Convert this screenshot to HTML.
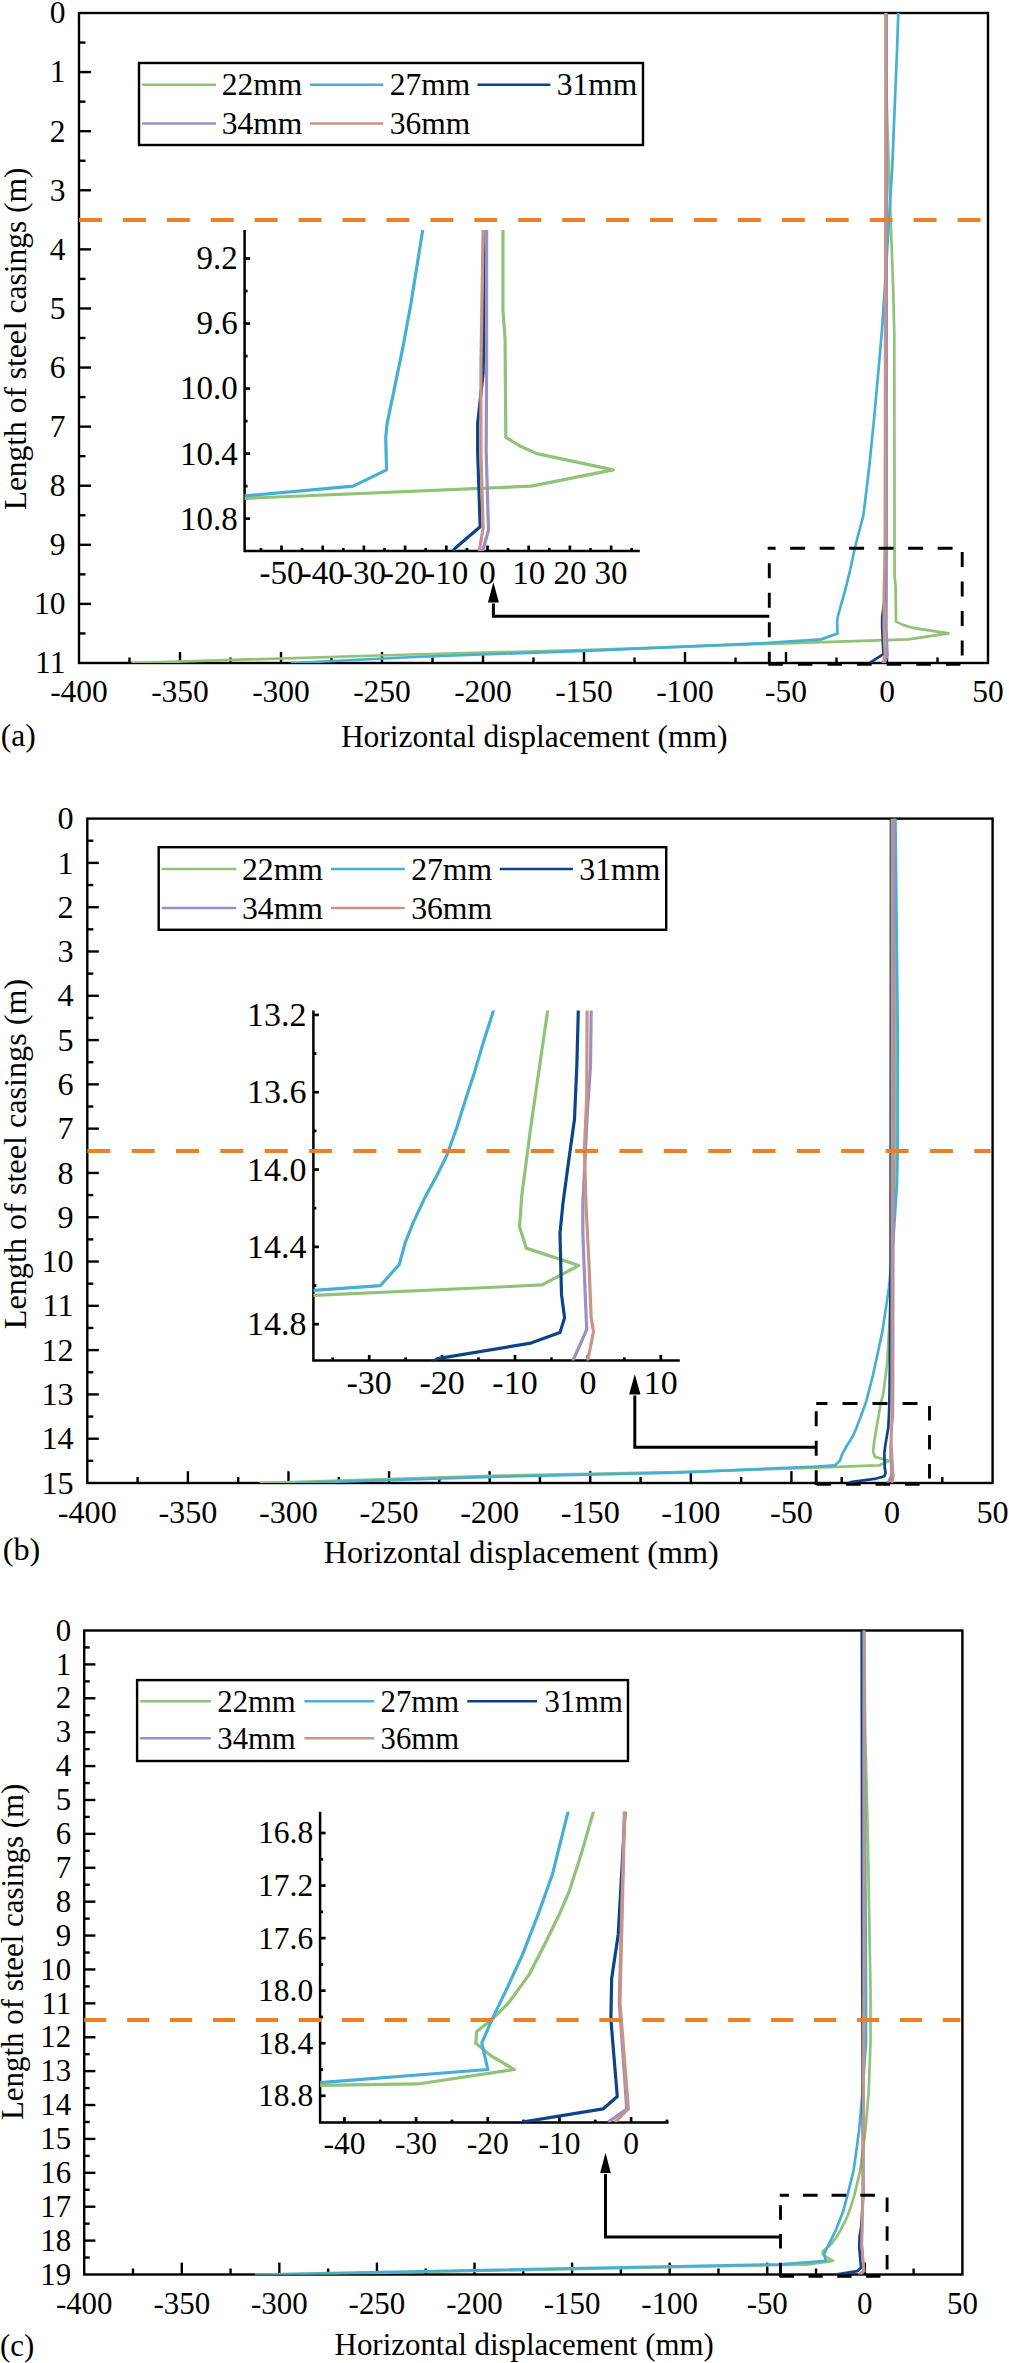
<!DOCTYPE html><html><head><meta charset="utf-8"><style>html,body{margin:0;padding:0;background:#fff;width:1009px;height:2363px;overflow:hidden}svg{display:block}text{font-family:"Liberation Serif", serif;fill:#000}</style></head><body>
<svg width="1009" height="2363" viewBox="0 0 1009 2363">
<rect width="1009" height="2363" fill="#fff"/>
<rect x="79" y="13" width="909" height="650" fill="none" stroke="#000" stroke-width="2.4"/>
<text x="65.4" y="23.4" font-size="31.5" text-anchor="end">0</text>
<line x1="79" y1="42.55" x2="85.5" y2="42.55" stroke="#000" stroke-width="2.4"/>
<line x1="79" y1="72.09" x2="91" y2="72.09" stroke="#000" stroke-width="2.4"/>
<text x="65.4" y="82.49" font-size="31.5" text-anchor="end">1</text>
<line x1="79" y1="101.64" x2="85.5" y2="101.64" stroke="#000" stroke-width="2.4"/>
<line x1="79" y1="131.18" x2="91" y2="131.18" stroke="#000" stroke-width="2.4"/>
<text x="65.4" y="141.58" font-size="31.5" text-anchor="end">2</text>
<line x1="79" y1="160.73" x2="85.5" y2="160.73" stroke="#000" stroke-width="2.4"/>
<line x1="79" y1="190.27" x2="91" y2="190.27" stroke="#000" stroke-width="2.4"/>
<text x="65.4" y="200.67" font-size="31.5" text-anchor="end">3</text>
<line x1="79" y1="219.82" x2="85.5" y2="219.82" stroke="#000" stroke-width="2.4"/>
<line x1="79" y1="249.36" x2="91" y2="249.36" stroke="#000" stroke-width="2.4"/>
<text x="65.4" y="259.76" font-size="31.5" text-anchor="end">4</text>
<line x1="79" y1="278.91" x2="85.5" y2="278.91" stroke="#000" stroke-width="2.4"/>
<line x1="79" y1="308.45" x2="91" y2="308.45" stroke="#000" stroke-width="2.4"/>
<text x="65.4" y="318.85" font-size="31.5" text-anchor="end">5</text>
<line x1="79" y1="338" x2="85.5" y2="338" stroke="#000" stroke-width="2.4"/>
<line x1="79" y1="367.55" x2="91" y2="367.55" stroke="#000" stroke-width="2.4"/>
<text x="65.4" y="377.94" font-size="31.5" text-anchor="end">6</text>
<line x1="79" y1="397.09" x2="85.5" y2="397.09" stroke="#000" stroke-width="2.4"/>
<line x1="79" y1="426.64" x2="91" y2="426.64" stroke="#000" stroke-width="2.4"/>
<text x="65.4" y="437.03" font-size="31.5" text-anchor="end">7</text>
<line x1="79" y1="456.18" x2="85.5" y2="456.18" stroke="#000" stroke-width="2.4"/>
<line x1="79" y1="485.73" x2="91" y2="485.73" stroke="#000" stroke-width="2.4"/>
<text x="65.4" y="496.12" font-size="31.5" text-anchor="end">8</text>
<line x1="79" y1="515.27" x2="85.5" y2="515.27" stroke="#000" stroke-width="2.4"/>
<line x1="79" y1="544.82" x2="91" y2="544.82" stroke="#000" stroke-width="2.4"/>
<text x="65.4" y="555.21" font-size="31.5" text-anchor="end">9</text>
<line x1="79" y1="574.36" x2="85.5" y2="574.36" stroke="#000" stroke-width="2.4"/>
<line x1="79" y1="603.91" x2="91" y2="603.91" stroke="#000" stroke-width="2.4"/>
<text x="65.4" y="614.3" font-size="31.5" text-anchor="end">10</text>
<line x1="79" y1="633.45" x2="85.5" y2="633.45" stroke="#000" stroke-width="2.4"/>
<text x="65.4" y="673.39" font-size="31.5" text-anchor="end">11</text>
<text x="79" y="701.6" font-size="31.5" text-anchor="middle">-400</text>
<line x1="129.5" y1="663" x2="129.5" y2="657.5" stroke="#000" stroke-width="2.4"/>
<line x1="180" y1="663" x2="180" y2="652" stroke="#000" stroke-width="2.4"/>
<text x="180" y="701.6" font-size="31.5" text-anchor="middle">-350</text>
<line x1="230.5" y1="663" x2="230.5" y2="657.5" stroke="#000" stroke-width="2.4"/>
<line x1="281" y1="663" x2="281" y2="652" stroke="#000" stroke-width="2.4"/>
<text x="281" y="701.6" font-size="31.5" text-anchor="middle">-300</text>
<line x1="331.5" y1="663" x2="331.5" y2="657.5" stroke="#000" stroke-width="2.4"/>
<line x1="382" y1="663" x2="382" y2="652" stroke="#000" stroke-width="2.4"/>
<text x="382" y="701.6" font-size="31.5" text-anchor="middle">-250</text>
<line x1="432.5" y1="663" x2="432.5" y2="657.5" stroke="#000" stroke-width="2.4"/>
<line x1="483" y1="663" x2="483" y2="652" stroke="#000" stroke-width="2.4"/>
<text x="483" y="701.6" font-size="31.5" text-anchor="middle">-200</text>
<line x1="533.5" y1="663" x2="533.5" y2="657.5" stroke="#000" stroke-width="2.4"/>
<line x1="584" y1="663" x2="584" y2="652" stroke="#000" stroke-width="2.4"/>
<text x="584" y="701.6" font-size="31.5" text-anchor="middle">-150</text>
<line x1="634.5" y1="663" x2="634.5" y2="657.5" stroke="#000" stroke-width="2.4"/>
<line x1="685" y1="663" x2="685" y2="652" stroke="#000" stroke-width="2.4"/>
<text x="685" y="701.6" font-size="31.5" text-anchor="middle">-100</text>
<line x1="735.5" y1="663" x2="735.5" y2="657.5" stroke="#000" stroke-width="2.4"/>
<line x1="786" y1="663" x2="786" y2="652" stroke="#000" stroke-width="2.4"/>
<text x="786" y="701.6" font-size="31.5" text-anchor="middle">-50</text>
<line x1="836.5" y1="663" x2="836.5" y2="657.5" stroke="#000" stroke-width="2.4"/>
<line x1="887" y1="663" x2="887" y2="652" stroke="#000" stroke-width="2.4"/>
<text x="887" y="701.6" font-size="31.5" text-anchor="middle">0</text>
<line x1="937.5" y1="663" x2="937.5" y2="657.5" stroke="#000" stroke-width="2.4"/>
<text x="988" y="701.6" font-size="31.5" text-anchor="middle">50</text>
<clipPath id="cp1"><rect x="79" y="13" width="909" height="650"/></clipPath>
<polyline points="885.79,13 885.99,72.09 887.61,131.18 890.64,219.82 893.06,284.82 894.27,332.09 894.58,546.59 894.58,575.55 895.61,585.59 895.99,621.64 903.16,624.89 911.24,627.55 948.61,633.45 908.41,639.36 768.63,643.8 598.34,649.65 419.98,654.25 131.52,663" fill="none" stroke="#90c377" stroke-width="2.7" stroke-linejoin="round" stroke-linecap="butt" clip-path="url(#cp1)"/>
<polyline points="898.31,13 897.1,48.45 894.68,107.55 892.25,166.64 889.02,219.82 885.79,273 881.99,330.02 878.6,368.9 874.19,417.48 869.3,466.23 863.51,514.68 855.08,547 849.43,573.18 845.47,589.14 837.71,616.91 837.11,621.64 837.51,633.45 821.15,639.36 768.02,642.91 598.34,650.3 419.98,656.74 291.1,663" fill="none" stroke="#48afd4" stroke-width="2.7" stroke-linejoin="round" stroke-linecap="butt" clip-path="url(#cp1)"/>
<polyline points="886.19,13 886.29,546.77 884.84,598.59 882.17,616.61 882.17,626.95 883.4,654.14 871.24,661.82 870.03,663" fill="none" stroke="#0d4488" stroke-width="2.7" stroke-linejoin="round" stroke-linecap="butt" clip-path="url(#cp1)"/>
<polyline points="886.6,13 886.56,546.59 886.56,598 886.35,626.95 887.48,655.32 884.84,662.41 884.58,663" fill="none" stroke="#9b8fc6" stroke-width="2.7" stroke-linejoin="round" stroke-linecap="butt" clip-path="url(#cp1)"/>
<polyline points="885.69,13 884.84,546.59 883.77,596.23 883.77,627.55 884.84,654.73 883.06,662.41 882.96,663" fill="none" stroke="#ca9484" stroke-width="2.7" stroke-linejoin="round" stroke-linecap="butt" clip-path="url(#cp1)"/>
<text x="534.2" y="746.7" font-size="31.5" text-anchor="middle">Horizontal displacement (mm)</text>
<text transform="translate(25.8,338.9) rotate(-90)" font-size="31.5" text-anchor="middle">Length of steel casings (m)</text>
<text x="0.8" y="746" font-size="31.5" text-anchor="start">(a)</text>
<rect x="139" y="63" width="504" height="82" fill="#fff" stroke="#000" stroke-width="2.4"/>
<line x1="142" y1="84.7" x2="216" y2="84.7" stroke="#90c377" stroke-width="2.5"/>
<text x="221.7" y="95.3" font-size="31.5" text-anchor="start">22mm</text>
<line x1="310" y1="84.7" x2="383.3" y2="84.7" stroke="#48afd4" stroke-width="2.5"/>
<text x="389.7" y="95.3" font-size="31.5" text-anchor="start">27mm</text>
<line x1="477.6" y1="84.7" x2="550.4" y2="84.7" stroke="#0d4488" stroke-width="2.5"/>
<text x="556.7" y="95.3" font-size="31.5" text-anchor="start">31mm</text>
<line x1="142" y1="123.4" x2="216" y2="123.4" stroke="#9b8fc6" stroke-width="2.5"/>
<text x="221.7" y="134" font-size="31.5" text-anchor="start">34mm</text>
<line x1="310" y1="123.4" x2="383.3" y2="123.4" stroke="#ca9484" stroke-width="2.5"/>
<text x="389.7" y="134" font-size="31.5" text-anchor="start">36mm</text>
<line x1="79" y1="220" x2="986" y2="220" stroke="#ee7f22" stroke-width="4" stroke-dasharray="22.9 21.03"/>
<line x1="767.7" y1="548.3" x2="962.2" y2="548.3" stroke="#000" stroke-width="2.9" stroke-dasharray="15 14.5" stroke-dashoffset="7.1"/>
<line x1="769.3" y1="548.3" x2="769.3" y2="664" stroke="#000" stroke-width="2.9" stroke-dasharray="15 14.5" stroke-dashoffset="14.6"/>
<line x1="962.2" y1="548.3" x2="962.2" y2="664" stroke="#000" stroke-width="2.9" stroke-dasharray="15 14.5" stroke-dashoffset="25.9"/>
<line x1="768.3" y1="664.2" x2="962.2" y2="664.2" stroke="#000" stroke-width="2.9" stroke-dasharray="14.5 15.1" stroke-dashoffset="0"/>
<polyline points="769.3,616.2 493.4,616.2 493.4,603.6" fill="none" stroke="#000" stroke-width="3"/>
<polygon points="493.4,582.3 487.9,602.6 498.9,602.6" fill="#000"/>
<polyline points="244.6,230 244.6,551 639.8,551" fill="none" stroke="#000" stroke-width="2.5"/>
<line x1="244.6" y1="258.5" x2="250.1" y2="258.5" stroke="#000" stroke-width="2.7"/>
<text x="237.8" y="269.39" font-size="33" text-anchor="end">9.2</text>
<line x1="244.6" y1="323.54" x2="250.1" y2="323.54" stroke="#000" stroke-width="2.7"/>
<text x="237.8" y="334.43" font-size="33" text-anchor="end">9.6</text>
<line x1="244.6" y1="388.58" x2="250.1" y2="388.58" stroke="#000" stroke-width="2.7"/>
<text x="237.8" y="399.47" font-size="33" text-anchor="end">10.0</text>
<line x1="244.6" y1="453.62" x2="250.1" y2="453.62" stroke="#000" stroke-width="2.7"/>
<text x="237.8" y="464.51" font-size="33" text-anchor="end">10.4</text>
<line x1="244.6" y1="518.66" x2="250.1" y2="518.66" stroke="#000" stroke-width="2.7"/>
<text x="237.8" y="529.55" font-size="33" text-anchor="end">10.8</text>
<line x1="244.6" y1="291.02" x2="247.6" y2="291.02" stroke="#000" stroke-width="2.7"/>
<line x1="244.6" y1="356.06" x2="247.6" y2="356.06" stroke="#000" stroke-width="2.7"/>
<line x1="244.6" y1="421.1" x2="247.6" y2="421.1" stroke="#000" stroke-width="2.7"/>
<line x1="244.6" y1="486.14" x2="247.6" y2="486.14" stroke="#000" stroke-width="2.7"/>
<line x1="281.5" y1="551" x2="281.5" y2="545.5" stroke="#000" stroke-width="2.7"/>
<text x="281.5" y="584.3" font-size="33" text-anchor="middle">-50</text>
<line x1="322.7" y1="551" x2="322.7" y2="545.5" stroke="#000" stroke-width="2.7"/>
<text x="322.7" y="584.3" font-size="33" text-anchor="middle">-40</text>
<line x1="363.9" y1="551" x2="363.9" y2="545.5" stroke="#000" stroke-width="2.7"/>
<text x="363.9" y="584.3" font-size="33" text-anchor="middle">-30</text>
<line x1="405.1" y1="551" x2="405.1" y2="545.5" stroke="#000" stroke-width="2.7"/>
<text x="405.1" y="584.3" font-size="33" text-anchor="middle">-20</text>
<line x1="446.3" y1="551" x2="446.3" y2="545.5" stroke="#000" stroke-width="2.7"/>
<text x="446.3" y="584.3" font-size="33" text-anchor="middle">-10</text>
<line x1="487.5" y1="551" x2="487.5" y2="545.5" stroke="#000" stroke-width="2.7"/>
<text x="487.5" y="584.3" font-size="33" text-anchor="middle">0</text>
<line x1="528.7" y1="551" x2="528.7" y2="545.5" stroke="#000" stroke-width="2.7"/>
<text x="528.7" y="584.3" font-size="33" text-anchor="middle">10</text>
<line x1="569.9" y1="551" x2="569.9" y2="545.5" stroke="#000" stroke-width="2.7"/>
<text x="569.9" y="584.3" font-size="33" text-anchor="middle">20</text>
<line x1="611.1" y1="551" x2="611.1" y2="545.5" stroke="#000" stroke-width="2.7"/>
<text x="611.1" y="584.3" font-size="33" text-anchor="middle">30</text>
<line x1="260.9" y1="551" x2="260.9" y2="548" stroke="#000" stroke-width="2.7"/>
<line x1="302.1" y1="551" x2="302.1" y2="548" stroke="#000" stroke-width="2.7"/>
<line x1="343.3" y1="551" x2="343.3" y2="548" stroke="#000" stroke-width="2.7"/>
<line x1="384.5" y1="551" x2="384.5" y2="548" stroke="#000" stroke-width="2.7"/>
<line x1="425.7" y1="551" x2="425.7" y2="548" stroke="#000" stroke-width="2.7"/>
<line x1="466.9" y1="551" x2="466.9" y2="548" stroke="#000" stroke-width="2.7"/>
<line x1="508.1" y1="551" x2="508.1" y2="548" stroke="#000" stroke-width="2.7"/>
<line x1="549.3" y1="551" x2="549.3" y2="548" stroke="#000" stroke-width="2.7"/>
<line x1="590.5" y1="551" x2="590.5" y2="548" stroke="#000" stroke-width="2.7"/>
<line x1="631.7" y1="551" x2="631.7" y2="548" stroke="#000" stroke-width="2.7"/>
<clipPath id="cp2"><rect x="244.6" y="230" width="395.2" height="321"/></clipPath>
<polyline points="485.03,-1237.42 485.44,-1074.82 488.74,-912.22 494.92,-668.32 499.86,-489.46 502.33,-359.38 502.95,230.86 502.95,310.53 505.05,338.17 505.83,437.36 520.46,446.3 536.94,453.62 613.16,469.88 531.17,486.14 246.07,498.34 -101.25,514.43 -465.04,527.12 -1053.38,551.18" fill="none" stroke="#90c377" stroke-width="3.2" stroke-linejoin="round" stroke-linecap="butt" clip-path="url(#cp2)"/>
<polyline points="510.57,-1237.42 508.1,-1139.86 503.16,-977.26 498.21,-814.66 491.62,-668.32 485.03,-521.98 477.28,-365.07 470.36,-258.08 461.38,-124.42 451.41,9.72 439.58,143.05 422.4,232 410.87,304.03 402.79,347.93 386.97,424.35 385.74,437.36 386.56,469.88 353.19,486.14 244.83,495.9 -101.25,516.22 -465.04,533.94 -727.9,551.18" fill="none" stroke="#48afd4" stroke-width="3.2" stroke-linejoin="round" stroke-linecap="butt" clip-path="url(#cp2)"/>
<polyline points="485.85,-1237.42 486.06,231.35 483.09,373.95 477.65,423.54 477.65,451.99 480.17,526.79 455.36,547.93 452.89,551.18" fill="none" stroke="#0d4488" stroke-width="3.2" stroke-linejoin="round" stroke-linecap="butt" clip-path="url(#cp2)"/>
<polyline points="486.68,-1237.42 486.59,230.86 486.59,372.32 486.18,451.99 488.49,530.04 483.09,549.55 482.56,551.18" fill="none" stroke="#9b8fc6" stroke-width="3.2" stroke-linejoin="round" stroke-linecap="butt" clip-path="url(#cp2)"/>
<polyline points="484.82,-1237.42 483.09,230.86 480.91,367.44 480.91,453.62 483.09,528.42 479.47,549.55 479.26,551.18" fill="none" stroke="#ca9484" stroke-width="3.2" stroke-linejoin="round" stroke-linecap="butt" clip-path="url(#cp2)"/>
<rect x="87.3" y="818.6" width="905.3" height="664.4" fill="none" stroke="#000" stroke-width="2.4"/>
<text x="73.6" y="829.23" font-size="32.2" text-anchor="end">0</text>
<line x1="87.3" y1="840.75" x2="93.3" y2="840.75" stroke="#000" stroke-width="2.4"/>
<line x1="87.3" y1="862.89" x2="98.8" y2="862.89" stroke="#000" stroke-width="2.4"/>
<text x="73.6" y="873.52" font-size="32.2" text-anchor="end">1</text>
<line x1="87.3" y1="885.04" x2="93.3" y2="885.04" stroke="#000" stroke-width="2.4"/>
<line x1="87.3" y1="907.19" x2="98.8" y2="907.19" stroke="#000" stroke-width="2.4"/>
<text x="73.6" y="917.81" font-size="32.2" text-anchor="end">2</text>
<line x1="87.3" y1="929.33" x2="93.3" y2="929.33" stroke="#000" stroke-width="2.4"/>
<line x1="87.3" y1="951.48" x2="98.8" y2="951.48" stroke="#000" stroke-width="2.4"/>
<text x="73.6" y="962.11" font-size="32.2" text-anchor="end">3</text>
<line x1="87.3" y1="973.63" x2="93.3" y2="973.63" stroke="#000" stroke-width="2.4"/>
<line x1="87.3" y1="995.77" x2="98.8" y2="995.77" stroke="#000" stroke-width="2.4"/>
<text x="73.6" y="1006.4" font-size="32.2" text-anchor="end">4</text>
<line x1="87.3" y1="1017.92" x2="93.3" y2="1017.92" stroke="#000" stroke-width="2.4"/>
<line x1="87.3" y1="1040.07" x2="98.8" y2="1040.07" stroke="#000" stroke-width="2.4"/>
<text x="73.6" y="1050.69" font-size="32.2" text-anchor="end">5</text>
<line x1="87.3" y1="1062.21" x2="93.3" y2="1062.21" stroke="#000" stroke-width="2.4"/>
<line x1="87.3" y1="1084.36" x2="98.8" y2="1084.36" stroke="#000" stroke-width="2.4"/>
<text x="73.6" y="1094.99" font-size="32.2" text-anchor="end">6</text>
<line x1="87.3" y1="1106.51" x2="93.3" y2="1106.51" stroke="#000" stroke-width="2.4"/>
<line x1="87.3" y1="1128.65" x2="98.8" y2="1128.65" stroke="#000" stroke-width="2.4"/>
<text x="73.6" y="1139.28" font-size="32.2" text-anchor="end">7</text>
<line x1="87.3" y1="1150.8" x2="93.3" y2="1150.8" stroke="#000" stroke-width="2.4"/>
<line x1="87.3" y1="1172.95" x2="98.8" y2="1172.95" stroke="#000" stroke-width="2.4"/>
<text x="73.6" y="1183.57" font-size="32.2" text-anchor="end">8</text>
<line x1="87.3" y1="1195.09" x2="93.3" y2="1195.09" stroke="#000" stroke-width="2.4"/>
<line x1="87.3" y1="1217.24" x2="98.8" y2="1217.24" stroke="#000" stroke-width="2.4"/>
<text x="73.6" y="1227.87" font-size="32.2" text-anchor="end">9</text>
<line x1="87.3" y1="1239.39" x2="93.3" y2="1239.39" stroke="#000" stroke-width="2.4"/>
<line x1="87.3" y1="1261.53" x2="98.8" y2="1261.53" stroke="#000" stroke-width="2.4"/>
<text x="73.6" y="1272.16" font-size="32.2" text-anchor="end">10</text>
<line x1="87.3" y1="1283.68" x2="93.3" y2="1283.68" stroke="#000" stroke-width="2.4"/>
<line x1="87.3" y1="1305.83" x2="98.8" y2="1305.83" stroke="#000" stroke-width="2.4"/>
<text x="73.6" y="1316.45" font-size="32.2" text-anchor="end">11</text>
<line x1="87.3" y1="1327.97" x2="93.3" y2="1327.97" stroke="#000" stroke-width="2.4"/>
<line x1="87.3" y1="1350.12" x2="98.8" y2="1350.12" stroke="#000" stroke-width="2.4"/>
<text x="73.6" y="1360.75" font-size="32.2" text-anchor="end">12</text>
<line x1="87.3" y1="1372.27" x2="93.3" y2="1372.27" stroke="#000" stroke-width="2.4"/>
<line x1="87.3" y1="1394.41" x2="98.8" y2="1394.41" stroke="#000" stroke-width="2.4"/>
<text x="73.6" y="1405.04" font-size="32.2" text-anchor="end">13</text>
<line x1="87.3" y1="1416.56" x2="93.3" y2="1416.56" stroke="#000" stroke-width="2.4"/>
<line x1="87.3" y1="1438.71" x2="98.8" y2="1438.71" stroke="#000" stroke-width="2.4"/>
<text x="73.6" y="1449.33" font-size="32.2" text-anchor="end">14</text>
<line x1="87.3" y1="1460.85" x2="93.3" y2="1460.85" stroke="#000" stroke-width="2.4"/>
<text x="73.6" y="1493.63" font-size="32.2" text-anchor="end">15</text>
<text x="87.3" y="1522.6" font-size="32.2" text-anchor="middle">-400</text>
<line x1="137.59" y1="1483" x2="137.59" y2="1477" stroke="#000" stroke-width="2.4"/>
<line x1="187.89" y1="1483" x2="187.89" y2="1471.2" stroke="#000" stroke-width="2.4"/>
<text x="187.89" y="1522.6" font-size="32.2" text-anchor="middle">-350</text>
<line x1="238.18" y1="1483" x2="238.18" y2="1477" stroke="#000" stroke-width="2.4"/>
<line x1="288.48" y1="1483" x2="288.48" y2="1471.2" stroke="#000" stroke-width="2.4"/>
<text x="288.48" y="1522.6" font-size="32.2" text-anchor="middle">-300</text>
<line x1="338.77" y1="1483" x2="338.77" y2="1477" stroke="#000" stroke-width="2.4"/>
<line x1="389.07" y1="1483" x2="389.07" y2="1471.2" stroke="#000" stroke-width="2.4"/>
<text x="389.07" y="1522.6" font-size="32.2" text-anchor="middle">-250</text>
<line x1="439.36" y1="1483" x2="439.36" y2="1477" stroke="#000" stroke-width="2.4"/>
<line x1="489.66" y1="1483" x2="489.66" y2="1471.2" stroke="#000" stroke-width="2.4"/>
<text x="489.66" y="1522.6" font-size="32.2" text-anchor="middle">-200</text>
<line x1="539.95" y1="1483" x2="539.95" y2="1477" stroke="#000" stroke-width="2.4"/>
<line x1="590.24" y1="1483" x2="590.24" y2="1471.2" stroke="#000" stroke-width="2.4"/>
<text x="590.24" y="1522.6" font-size="32.2" text-anchor="middle">-150</text>
<line x1="640.54" y1="1483" x2="640.54" y2="1477" stroke="#000" stroke-width="2.4"/>
<line x1="690.83" y1="1483" x2="690.83" y2="1471.2" stroke="#000" stroke-width="2.4"/>
<text x="690.83" y="1522.6" font-size="32.2" text-anchor="middle">-100</text>
<line x1="741.13" y1="1483" x2="741.13" y2="1477" stroke="#000" stroke-width="2.4"/>
<line x1="791.42" y1="1483" x2="791.42" y2="1471.2" stroke="#000" stroke-width="2.4"/>
<text x="791.42" y="1522.6" font-size="32.2" text-anchor="middle">-50</text>
<line x1="841.72" y1="1483" x2="841.72" y2="1477" stroke="#000" stroke-width="2.4"/>
<line x1="892.01" y1="1483" x2="892.01" y2="1471.2" stroke="#000" stroke-width="2.4"/>
<text x="892.01" y="1522.6" font-size="32.2" text-anchor="middle">0</text>
<line x1="942.31" y1="1483" x2="942.31" y2="1477" stroke="#000" stroke-width="2.4"/>
<text x="992.6" y="1522.6" font-size="32.2" text-anchor="middle">50</text>
<clipPath id="cp3"><rect x="87.3" y="818.6" width="905.3" height="664.4"/></clipPath>
<polyline points="894.43,818.6 895.23,951.48 896.03,1084.36 896.03,1150.8 895.23,1195.09 892.82,1243.82 890.4,1302.73 887.38,1362.08 883.16,1394.41 880.95,1402.39 876.28,1428.96 873.76,1444.91 873.14,1451.99 875.01,1456.87 889.5,1460.85 879.34,1465.28 870.49,1465.64 816.37,1467.67 678.36,1472.02 500.12,1475.6 259.71,1483" fill="none" stroke="#90c377" stroke-width="2.7" stroke-linejoin="round" stroke-linecap="butt" clip-path="url(#cp3)"/>
<polyline points="895.43,818.6 896.44,907.19 897.85,1040.07 897.81,1140.17 897.02,1184.46 893.02,1243.82 888.91,1288.11 882.21,1332.4 872.62,1376.7 865.92,1402.65 863.44,1409.03 860.71,1416.69 858.54,1422.14 855.8,1429.41 853.06,1435.69 850.35,1440.26 847.05,1445.26 843.77,1451.11 841.58,1455.67 839.95,1460.63 834.76,1465.42 816.43,1466.52 678.36,1472.68 500.12,1476.67 295.52,1483" fill="none" stroke="#48afd4" stroke-width="2.7" stroke-linejoin="round" stroke-linecap="butt" clip-path="url(#cp3)"/>
<polyline points="891.01,818.6 890.8,1040.07 890.6,1261.53 889.8,1372.27 889.36,1402.7 888.95,1415.23 888.31,1427.41 886.82,1436.23 885.13,1446.59 884.31,1453.54 884.73,1467.5 885.57,1472.81 884.31,1476.18 876.28,1478.57 850.57,1482.11 848.76,1483" fill="none" stroke="#0d4488" stroke-width="2.7" stroke-linejoin="round" stroke-linecap="butt" clip-path="url(#cp3)"/>
<polyline points="894.22,818.6 893.82,1040.07 893.22,1261.53 892.92,1402.7 892.74,1415.23 891.87,1425.68 890.62,1446.59 890.62,1453.54 891.27,1467.5 891.69,1475.47 887.69,1483" fill="none" stroke="#9b8fc6" stroke-width="2.7" stroke-linejoin="round" stroke-linecap="butt" clip-path="url(#cp3)"/>
<polyline points="892.01,818.6 892.01,1040.07 891.91,1261.53 891.79,1402.7 891.69,1422.19 891.05,1434.28 891.47,1446.59 892.31,1460.41 892.92,1472.81 893.56,1475.91 891.87,1483" fill="none" stroke="#ca9484" stroke-width="2.7" stroke-linejoin="round" stroke-linecap="butt" clip-path="url(#cp3)"/>
<text x="521.2" y="1563.4" font-size="32.2" text-anchor="middle">Horizontal displacement (mm)</text>
<text transform="translate(25.7,1154) rotate(-90)" font-size="32.2" text-anchor="middle">Length of steel casings (m)</text>
<text x="2.8" y="1559.5" font-size="32.2" text-anchor="start">(b)</text>
<g transform="translate(158.7,847.2) scale(1.007) translate(-139,-63)">
<rect x="139" y="63" width="504" height="82" fill="#fff" stroke="#000" stroke-width="2.4"/>
<line x1="142" y1="84.7" x2="216" y2="84.7" stroke="#90c377" stroke-width="2.5"/>
<text x="221.7" y="95.3" font-size="31.5" text-anchor="start">22mm</text>
<line x1="310" y1="84.7" x2="383.3" y2="84.7" stroke="#48afd4" stroke-width="2.5"/>
<text x="389.7" y="95.3" font-size="31.5" text-anchor="start">27mm</text>
<line x1="477.6" y1="84.7" x2="550.4" y2="84.7" stroke="#0d4488" stroke-width="2.5"/>
<text x="556.7" y="95.3" font-size="31.5" text-anchor="start">31mm</text>
<line x1="142" y1="123.4" x2="216" y2="123.4" stroke="#9b8fc6" stroke-width="2.5"/>
<text x="221.7" y="134" font-size="31.5" text-anchor="start">34mm</text>
<line x1="310" y1="123.4" x2="383.3" y2="123.4" stroke="#ca9484" stroke-width="2.5"/>
<text x="389.7" y="134" font-size="31.5" text-anchor="start">36mm</text>
</g>
<polyline points="313.4,1010.5 313.4,1360.4 679.8,1360.4" fill="none" stroke="#000" stroke-width="2.5"/>
<line x1="313.4" y1="1014.9" x2="318.9" y2="1014.9" stroke="#000" stroke-width="2.7"/>
<text x="306.5" y="1026.12" font-size="34" text-anchor="end">13.2</text>
<line x1="313.4" y1="1092.22" x2="318.9" y2="1092.22" stroke="#000" stroke-width="2.7"/>
<text x="306.5" y="1103.44" font-size="34" text-anchor="end">13.6</text>
<line x1="313.4" y1="1169.54" x2="318.9" y2="1169.54" stroke="#000" stroke-width="2.7"/>
<text x="306.5" y="1180.76" font-size="34" text-anchor="end">14.0</text>
<line x1="313.4" y1="1246.86" x2="318.9" y2="1246.86" stroke="#000" stroke-width="2.7"/>
<text x="306.5" y="1258.08" font-size="34" text-anchor="end">14.4</text>
<line x1="313.4" y1="1324.18" x2="318.9" y2="1324.18" stroke="#000" stroke-width="2.7"/>
<text x="306.5" y="1335.4" font-size="34" text-anchor="end">14.8</text>
<line x1="313.4" y1="1053.56" x2="316.4" y2="1053.56" stroke="#000" stroke-width="2.7"/>
<line x1="313.4" y1="1130.88" x2="316.4" y2="1130.88" stroke="#000" stroke-width="2.7"/>
<line x1="313.4" y1="1208.2" x2="316.4" y2="1208.2" stroke="#000" stroke-width="2.7"/>
<line x1="313.4" y1="1285.52" x2="316.4" y2="1285.52" stroke="#000" stroke-width="2.7"/>
<line x1="369.2" y1="1360.4" x2="369.2" y2="1354.9" stroke="#000" stroke-width="2.7"/>
<text x="369.2" y="1393.5" font-size="34" text-anchor="middle">-30</text>
<line x1="442.1" y1="1360.4" x2="442.1" y2="1354.9" stroke="#000" stroke-width="2.7"/>
<text x="442.1" y="1393.5" font-size="34" text-anchor="middle">-20</text>
<line x1="515" y1="1360.4" x2="515" y2="1354.9" stroke="#000" stroke-width="2.7"/>
<text x="515" y="1393.5" font-size="34" text-anchor="middle">-10</text>
<line x1="587.9" y1="1360.4" x2="587.9" y2="1354.9" stroke="#000" stroke-width="2.7"/>
<text x="587.9" y="1393.5" font-size="34" text-anchor="middle">0</text>
<line x1="660.8" y1="1360.4" x2="660.8" y2="1354.9" stroke="#000" stroke-width="2.7"/>
<text x="660.8" y="1393.5" font-size="34" text-anchor="middle">10</text>
<line x1="332.75" y1="1360.4" x2="332.75" y2="1357.4" stroke="#000" stroke-width="2.7"/>
<line x1="405.65" y1="1360.4" x2="405.65" y2="1357.4" stroke="#000" stroke-width="2.7"/>
<line x1="478.55" y1="1360.4" x2="478.55" y2="1357.4" stroke="#000" stroke-width="2.7"/>
<line x1="551.45" y1="1360.4" x2="551.45" y2="1357.4" stroke="#000" stroke-width="2.7"/>
<line x1="624.35" y1="1360.4" x2="624.35" y2="1357.4" stroke="#000" stroke-width="2.7"/>
<clipPath id="cp4"><rect x="313.4" y="1010.5" width="366.4" height="349.9"/></clipPath>
<polyline points="596.65,-1543.8 599.56,-962.55 602.48,-381.3 602.48,-90.67 599.56,103.08 590.82,316.2 582.07,573.89 571.13,833.51 555.82,974.95 547.8,1009.83 530.89,1126.08 521.78,1195.83 519.52,1226.83 526.3,1248.14 578.79,1265.58 541.97,1284.95 509.9,1286.5 313.8,1295.41 -186.3,1314.4 -832.19,1330.09 -1703.35,1362.45" fill="none" stroke="#90c377" stroke-width="3.2" stroke-linejoin="round" stroke-linecap="butt" clip-path="url(#cp4)"/>
<polyline points="600.29,-1543.8 603.94,-1156.3 609.04,-575.05 608.9,-137.17 606.05,56.58 591.54,316.2 576.67,509.95 552.4,703.7 517.62,897.45 493.35,1010.99 484.38,1038.89 474.47,1072.41 466.59,1096.24 456.68,1128.01 446.77,1155.53 436.92,1175.48 424.97,1197.38 413.09,1222.95 405.14,1242.91 399.23,1264.61 380.43,1285.53 314.01,1290.38 -186.3,1317.31 -832.19,1334.74 -1573.59,1362.45" fill="none" stroke="#48afd4" stroke-width="3.2" stroke-linejoin="round" stroke-linecap="butt" clip-path="url(#cp4)"/>
<polyline points="584.25,-1543.8 583.53,-575.05 582.8,393.7 579.88,878.08 578.28,1011.18 576.82,1066.01 574.49,1119.29 569.09,1157.85 562.97,1203.19 559.98,1233.61 561.51,1294.64 564.57,1317.89 559.98,1332.61 530.89,1343.08 437.73,1358.58 431.16,1362.45" fill="none" stroke="#0d4488" stroke-width="3.2" stroke-linejoin="round" stroke-linecap="butt" clip-path="url(#cp4)"/>
<polyline points="595.92,-1543.8 594.46,-575.05 592.27,393.7 591.18,1011.18 590.52,1066.01 587.39,1111.74 582.87,1203.19 582.87,1233.61 585.2,1294.64 586.73,1329.51 572.23,1362.45" fill="none" stroke="#9b8fc6" stroke-width="3.2" stroke-linejoin="round" stroke-linecap="butt" clip-path="url(#cp4)"/>
<polyline points="587.9,-1543.8 587.9,-575.05 587.54,393.7 587.1,1011.18 586.73,1096.43 584.4,1149.33 585.93,1203.19 588.99,1263.64 591.18,1317.89 593.51,1331.45 587.39,1362.45" fill="none" stroke="#ca9484" stroke-width="3.2" stroke-linejoin="round" stroke-linecap="butt" clip-path="url(#cp4)"/>
<line x1="87.3" y1="1151" x2="990.6" y2="1151" stroke="#ee7f22" stroke-width="4" stroke-dasharray="23 21.35"/>
<line x1="816.2" y1="1403.5" x2="929.5" y2="1403.5" stroke="#000" stroke-width="2.9" stroke-dasharray="15 15" stroke-dashoffset="3.7"/>
<line x1="816.2" y1="1403.5" x2="816.2" y2="1485" stroke="#000" stroke-width="2.9" stroke-dasharray="15 14.5" stroke-dashoffset="21.8"/>
<line x1="929.5" y1="1403.5" x2="929.5" y2="1485" stroke="#000" stroke-width="2.9" stroke-dasharray="14.5 14.5" stroke-dashoffset="26.6"/>
<line x1="816.6" y1="1484.2" x2="929.5" y2="1484.2" stroke="#000" stroke-width="2.9" stroke-dasharray="14.5 15" stroke-dashoffset="0"/>
<polyline points="816.2,1447.2 634.8,1447.2 634.8,1395.5" fill="none" stroke="#000" stroke-width="3"/>
<polygon points="634.8,1374.2 629.1,1394.5 640.5,1394.5" fill="#000"/>
<rect x="84.2" y="1630.5" width="878.2" height="644" fill="none" stroke="#000" stroke-width="2.4"/>
<text x="71.2" y="1640.7" font-size="30.9" text-anchor="end">0</text>
<line x1="84.2" y1="1647.45" x2="89.7" y2="1647.45" stroke="#000" stroke-width="2.4"/>
<line x1="84.2" y1="1664.39" x2="95.4" y2="1664.39" stroke="#000" stroke-width="2.4"/>
<text x="71.2" y="1674.59" font-size="30.9" text-anchor="end">1</text>
<line x1="84.2" y1="1681.34" x2="89.7" y2="1681.34" stroke="#000" stroke-width="2.4"/>
<line x1="84.2" y1="1698.29" x2="95.4" y2="1698.29" stroke="#000" stroke-width="2.4"/>
<text x="71.2" y="1708.49" font-size="30.9" text-anchor="end">2</text>
<line x1="84.2" y1="1715.24" x2="89.7" y2="1715.24" stroke="#000" stroke-width="2.4"/>
<line x1="84.2" y1="1732.18" x2="95.4" y2="1732.18" stroke="#000" stroke-width="2.4"/>
<text x="71.2" y="1742.38" font-size="30.9" text-anchor="end">3</text>
<line x1="84.2" y1="1749.13" x2="89.7" y2="1749.13" stroke="#000" stroke-width="2.4"/>
<line x1="84.2" y1="1766.08" x2="95.4" y2="1766.08" stroke="#000" stroke-width="2.4"/>
<text x="71.2" y="1776.28" font-size="30.9" text-anchor="end">4</text>
<line x1="84.2" y1="1783.03" x2="89.7" y2="1783.03" stroke="#000" stroke-width="2.4"/>
<line x1="84.2" y1="1799.97" x2="95.4" y2="1799.97" stroke="#000" stroke-width="2.4"/>
<text x="71.2" y="1810.17" font-size="30.9" text-anchor="end">5</text>
<line x1="84.2" y1="1816.92" x2="89.7" y2="1816.92" stroke="#000" stroke-width="2.4"/>
<line x1="84.2" y1="1833.87" x2="95.4" y2="1833.87" stroke="#000" stroke-width="2.4"/>
<text x="71.2" y="1844.07" font-size="30.9" text-anchor="end">6</text>
<line x1="84.2" y1="1850.82" x2="89.7" y2="1850.82" stroke="#000" stroke-width="2.4"/>
<line x1="84.2" y1="1867.76" x2="95.4" y2="1867.76" stroke="#000" stroke-width="2.4"/>
<text x="71.2" y="1877.96" font-size="30.9" text-anchor="end">7</text>
<line x1="84.2" y1="1884.71" x2="89.7" y2="1884.71" stroke="#000" stroke-width="2.4"/>
<line x1="84.2" y1="1901.66" x2="95.4" y2="1901.66" stroke="#000" stroke-width="2.4"/>
<text x="71.2" y="1911.85" font-size="30.9" text-anchor="end">8</text>
<line x1="84.2" y1="1918.61" x2="89.7" y2="1918.61" stroke="#000" stroke-width="2.4"/>
<line x1="84.2" y1="1935.55" x2="95.4" y2="1935.55" stroke="#000" stroke-width="2.4"/>
<text x="71.2" y="1945.75" font-size="30.9" text-anchor="end">9</text>
<line x1="84.2" y1="1952.5" x2="89.7" y2="1952.5" stroke="#000" stroke-width="2.4"/>
<line x1="84.2" y1="1969.45" x2="95.4" y2="1969.45" stroke="#000" stroke-width="2.4"/>
<text x="71.2" y="1979.64" font-size="30.9" text-anchor="end">10</text>
<line x1="84.2" y1="1986.39" x2="89.7" y2="1986.39" stroke="#000" stroke-width="2.4"/>
<line x1="84.2" y1="2003.34" x2="95.4" y2="2003.34" stroke="#000" stroke-width="2.4"/>
<text x="71.2" y="2013.54" font-size="30.9" text-anchor="end">11</text>
<line x1="84.2" y1="2020.29" x2="89.7" y2="2020.29" stroke="#000" stroke-width="2.4"/>
<line x1="84.2" y1="2037.24" x2="95.4" y2="2037.24" stroke="#000" stroke-width="2.4"/>
<text x="71.2" y="2047.43" font-size="30.9" text-anchor="end">12</text>
<line x1="84.2" y1="2054.18" x2="89.7" y2="2054.18" stroke="#000" stroke-width="2.4"/>
<line x1="84.2" y1="2071.13" x2="95.4" y2="2071.13" stroke="#000" stroke-width="2.4"/>
<text x="71.2" y="2081.33" font-size="30.9" text-anchor="end">13</text>
<line x1="84.2" y1="2088.08" x2="89.7" y2="2088.08" stroke="#000" stroke-width="2.4"/>
<line x1="84.2" y1="2105.03" x2="95.4" y2="2105.03" stroke="#000" stroke-width="2.4"/>
<text x="71.2" y="2115.22" font-size="30.9" text-anchor="end">14</text>
<line x1="84.2" y1="2121.97" x2="89.7" y2="2121.97" stroke="#000" stroke-width="2.4"/>
<line x1="84.2" y1="2138.92" x2="95.4" y2="2138.92" stroke="#000" stroke-width="2.4"/>
<text x="71.2" y="2149.12" font-size="30.9" text-anchor="end">15</text>
<line x1="84.2" y1="2155.87" x2="89.7" y2="2155.87" stroke="#000" stroke-width="2.4"/>
<line x1="84.2" y1="2172.82" x2="95.4" y2="2172.82" stroke="#000" stroke-width="2.4"/>
<text x="71.2" y="2183.01" font-size="30.9" text-anchor="end">16</text>
<line x1="84.2" y1="2189.76" x2="89.7" y2="2189.76" stroke="#000" stroke-width="2.4"/>
<line x1="84.2" y1="2206.71" x2="95.4" y2="2206.71" stroke="#000" stroke-width="2.4"/>
<text x="71.2" y="2216.91" font-size="30.9" text-anchor="end">17</text>
<line x1="84.2" y1="2223.66" x2="89.7" y2="2223.66" stroke="#000" stroke-width="2.4"/>
<line x1="84.2" y1="2240.61" x2="95.4" y2="2240.61" stroke="#000" stroke-width="2.4"/>
<text x="71.2" y="2250.8" font-size="30.9" text-anchor="end">18</text>
<line x1="84.2" y1="2257.55" x2="89.7" y2="2257.55" stroke="#000" stroke-width="2.4"/>
<text x="71.2" y="2284.7" font-size="30.9" text-anchor="end">19</text>
<text x="84.2" y="2314" font-size="30.9" text-anchor="middle">-400</text>
<line x1="132.99" y1="2274.5" x2="132.99" y2="2268.5" stroke="#000" stroke-width="2.4"/>
<line x1="181.78" y1="2274.5" x2="181.78" y2="2262.6" stroke="#000" stroke-width="2.4"/>
<text x="181.78" y="2314" font-size="30.9" text-anchor="middle">-350</text>
<line x1="230.57" y1="2274.5" x2="230.57" y2="2268.5" stroke="#000" stroke-width="2.4"/>
<line x1="279.36" y1="2274.5" x2="279.36" y2="2262.6" stroke="#000" stroke-width="2.4"/>
<text x="279.36" y="2314" font-size="30.9" text-anchor="middle">-300</text>
<line x1="328.14" y1="2274.5" x2="328.14" y2="2268.5" stroke="#000" stroke-width="2.4"/>
<line x1="376.93" y1="2274.5" x2="376.93" y2="2262.6" stroke="#000" stroke-width="2.4"/>
<text x="376.93" y="2314" font-size="30.9" text-anchor="middle">-250</text>
<line x1="425.72" y1="2274.5" x2="425.72" y2="2268.5" stroke="#000" stroke-width="2.4"/>
<line x1="474.51" y1="2274.5" x2="474.51" y2="2262.6" stroke="#000" stroke-width="2.4"/>
<text x="474.51" y="2314" font-size="30.9" text-anchor="middle">-200</text>
<line x1="523.3" y1="2274.5" x2="523.3" y2="2268.5" stroke="#000" stroke-width="2.4"/>
<line x1="572.09" y1="2274.5" x2="572.09" y2="2262.6" stroke="#000" stroke-width="2.4"/>
<text x="572.09" y="2314" font-size="30.9" text-anchor="middle">-150</text>
<line x1="620.88" y1="2274.5" x2="620.88" y2="2268.5" stroke="#000" stroke-width="2.4"/>
<line x1="669.67" y1="2274.5" x2="669.67" y2="2262.6" stroke="#000" stroke-width="2.4"/>
<text x="669.67" y="2314" font-size="30.9" text-anchor="middle">-100</text>
<line x1="718.46" y1="2274.5" x2="718.46" y2="2268.5" stroke="#000" stroke-width="2.4"/>
<line x1="767.24" y1="2274.5" x2="767.24" y2="2262.6" stroke="#000" stroke-width="2.4"/>
<text x="767.24" y="2314" font-size="30.9" text-anchor="middle">-50</text>
<line x1="816.03" y1="2274.5" x2="816.03" y2="2268.5" stroke="#000" stroke-width="2.4"/>
<line x1="864.82" y1="2274.5" x2="864.82" y2="2262.6" stroke="#000" stroke-width="2.4"/>
<text x="864.82" y="2314" font-size="30.9" text-anchor="middle">0</text>
<line x1="913.61" y1="2274.5" x2="913.61" y2="2268.5" stroke="#000" stroke-width="2.4"/>
<text x="962.4" y="2314" font-size="30.9" text-anchor="middle">50</text>
<clipPath id="cp5"><rect x="84.2" y="1630.5" width="878.2" height="644"/></clipPath>
<polyline points="864.24,1630.5 865.21,1732.18 867.75,1833.87 870.52,1989.78 870.52,2041.3 868.63,2092.82 865.33,2131.46 860.22,2170.1 854.44,2194.85 851.24,2205.35 848.02,2214.85 845.27,2220.95 841.6,2228.06 837.01,2236.54 831.53,2243.66 826.92,2248.06 822.81,2251.11 822.53,2254.16 826.92,2257.55 833.07,2260.94 806.74,2264.67 780.12,2265.01 254.96,2275.18" fill="none" stroke="#90c377" stroke-width="2.7" stroke-linejoin="round" stroke-linecap="butt" clip-path="url(#cp5)"/>
<polyline points="863.85,1630.5 864.82,1766.08 866.01,1989.78 866.01,2041.3 862.52,2092.82 858.97,2131.46 853.7,2170.1 847.55,2194.85 843.45,2210.44 839.76,2220.27 835.2,2231.45 831.06,2239.93 826.92,2248.06 824.17,2254.16 825.83,2260.94 780.12,2264.33 254.96,2274.5" fill="none" stroke="#48afd4" stroke-width="2.7" stroke-linejoin="round" stroke-linecap="butt" clip-path="url(#cp5)"/>
<polyline points="861.7,1630.5 862.29,1969.45 863.16,2194.85 861.33,2226.03 859.51,2237.55 859.32,2248.06 861.06,2267.89 857.19,2271.11 835.2,2274.5" fill="none" stroke="#0d4488" stroke-width="2.7" stroke-linejoin="round" stroke-linecap="butt" clip-path="url(#cp5)"/>
<polyline points="863.85,1630.5 863.65,1969.45 862.97,2194.85 861.6,2243.66 863.63,2271.11 858.58,2274.5" fill="none" stroke="#9b8fc6" stroke-width="2.7" stroke-linejoin="round" stroke-linecap="butt" clip-path="url(#cp5)"/>
<polyline points="864.12,1630.5 864.04,1969.45 863.07,2194.85 861.8,2243.66 864.08,2271.11 860.41,2274.5" fill="none" stroke="#ca9484" stroke-width="2.7" stroke-linejoin="round" stroke-linecap="butt" clip-path="url(#cp5)"/>
<text x="524.2" y="2355.4" font-size="30.9" text-anchor="middle">Horizontal displacement (mm)</text>
<text transform="translate(22.8,1951.9) rotate(-90)" font-size="30.9" text-anchor="middle">Length of steel casings (m)</text>
<text x="0" y="2355.5" font-size="30.9" text-anchor="start">(c)</text>
<rect x="137.1" y="1680.1" width="490.9" height="80.9" fill="#fff" stroke="#000" stroke-width="2.4"/>
<line x1="140.1" y1="1701.3" x2="210.9" y2="1701.3" stroke="#90c377" stroke-width="2.5"/>
<text x="217.3" y="1711.6" font-size="30.7" text-anchor="start">22mm</text>
<line x1="304.4" y1="1701.3" x2="374.2" y2="1701.3" stroke="#48afd4" stroke-width="2.5"/>
<text x="380.6" y="1711.6" font-size="30.7" text-anchor="start">27mm</text>
<line x1="467.2" y1="1701.3" x2="537" y2="1701.3" stroke="#0d4488" stroke-width="2.5"/>
<text x="544.4" y="1711.6" font-size="30.7" text-anchor="start">31mm</text>
<line x1="140.1" y1="1738.3" x2="210.9" y2="1738.3" stroke="#9b8fc6" stroke-width="2.5"/>
<text x="217.3" y="1748.6" font-size="30.7" text-anchor="start">34mm</text>
<line x1="304.4" y1="1738.3" x2="374.2" y2="1738.3" stroke="#ca9484" stroke-width="2.5"/>
<text x="380.6" y="1748.6" font-size="30.7" text-anchor="start">36mm</text>
<polyline points="320.1,1811.8 320.1,2122.6 668.5,2122.6" fill="none" stroke="#000" stroke-width="2.5"/>
<line x1="320.1" y1="1833" x2="325.6" y2="1833" stroke="#000" stroke-width="2.7"/>
<text x="313.2" y="1843.39" font-size="31.5" text-anchor="end">16.8</text>
<line x1="320.1" y1="1885.56" x2="325.6" y2="1885.56" stroke="#000" stroke-width="2.7"/>
<text x="313.2" y="1895.95" font-size="31.5" text-anchor="end">17.2</text>
<line x1="320.1" y1="1938.12" x2="325.6" y2="1938.12" stroke="#000" stroke-width="2.7"/>
<text x="313.2" y="1948.52" font-size="31.5" text-anchor="end">17.6</text>
<line x1="320.1" y1="1990.68" x2="325.6" y2="1990.68" stroke="#000" stroke-width="2.7"/>
<text x="313.2" y="2001.07" font-size="31.5" text-anchor="end">18.0</text>
<line x1="320.1" y1="2043.24" x2="325.6" y2="2043.24" stroke="#000" stroke-width="2.7"/>
<text x="313.2" y="2053.63" font-size="31.5" text-anchor="end">18.4</text>
<line x1="320.1" y1="2095.8" x2="325.6" y2="2095.8" stroke="#000" stroke-width="2.7"/>
<text x="313.2" y="2106.2" font-size="31.5" text-anchor="end">18.8</text>
<line x1="320.1" y1="1859.28" x2="323.1" y2="1859.28" stroke="#000" stroke-width="2.7"/>
<line x1="320.1" y1="1911.84" x2="323.1" y2="1911.84" stroke="#000" stroke-width="2.7"/>
<line x1="320.1" y1="1964.4" x2="323.1" y2="1964.4" stroke="#000" stroke-width="2.7"/>
<line x1="320.1" y1="2016.96" x2="323.1" y2="2016.96" stroke="#000" stroke-width="2.7"/>
<line x1="320.1" y1="2069.52" x2="323.1" y2="2069.52" stroke="#000" stroke-width="2.7"/>
<line x1="344.42" y1="2122.6" x2="344.42" y2="2117.1" stroke="#000" stroke-width="2.7"/>
<text x="344.42" y="2153.8" font-size="31.5" text-anchor="middle">-40</text>
<line x1="416.09" y1="2122.6" x2="416.09" y2="2117.1" stroke="#000" stroke-width="2.7"/>
<text x="416.09" y="2153.8" font-size="31.5" text-anchor="middle">-30</text>
<line x1="487.76" y1="2122.6" x2="487.76" y2="2117.1" stroke="#000" stroke-width="2.7"/>
<text x="487.76" y="2153.8" font-size="31.5" text-anchor="middle">-20</text>
<line x1="559.43" y1="2122.6" x2="559.43" y2="2117.1" stroke="#000" stroke-width="2.7"/>
<text x="559.43" y="2153.8" font-size="31.5" text-anchor="middle">-10</text>
<line x1="631.1" y1="2122.6" x2="631.1" y2="2117.1" stroke="#000" stroke-width="2.7"/>
<text x="631.1" y="2153.8" font-size="31.5" text-anchor="middle">0</text>
<line x1="380.25" y1="2122.6" x2="380.25" y2="2119.6" stroke="#000" stroke-width="2.7"/>
<line x1="451.93" y1="2122.6" x2="451.93" y2="2119.6" stroke="#000" stroke-width="2.7"/>
<line x1="523.6" y1="2122.6" x2="523.6" y2="2119.6" stroke="#000" stroke-width="2.7"/>
<line x1="595.26" y1="2122.6" x2="595.26" y2="2119.6" stroke="#000" stroke-width="2.7"/>
<line x1="666.94" y1="2122.6" x2="666.94" y2="2119.6" stroke="#000" stroke-width="2.7"/>
<clipPath id="cp6"><rect x="320.1" y="1811.8" width="348.4" height="310.8"/></clipPath>
<polyline points="628.95,-374.52 632.53,19.68 641.85,413.88 652.03,1018.32 652.03,1218.05 645.08,1417.78 632.96,1567.57 614.19,1717.37 592.97,1813.29 581.22,1854.02 569.39,1890.82 559.29,1914.47 545.81,1942.06 528.97,1974.91 508.83,2002.51 491.92,2019.59 476.79,2031.41 475.79,2043.24 491.92,2056.38 514.49,2069.52 417.81,2083.97 320.05,2085.29 -1608.59,2124.71" fill="none" stroke="#90c377" stroke-width="3.2" stroke-linejoin="round" stroke-linecap="butt" clip-path="url(#cp6)"/>
<polyline points="627.52,-374.52 631.1,151.08 635.47,1018.32 635.47,1218.05 622.64,1417.78 609.6,1567.57 590.25,1717.37 567.67,1813.29 552.62,1873.73 539.08,1911.84 522.3,1955.2 507.11,1988.05 491.92,2019.59 481.81,2043.24 487.9,2069.52 320.05,2082.66 -1608.59,2122.08" fill="none" stroke="#48afd4" stroke-width="3.2" stroke-linejoin="round" stroke-linecap="butt" clip-path="url(#cp6)"/>
<polyline points="619.63,-374.52 621.78,939.48 625.01,1813.29 618.27,1934.18 611.61,1978.85 610.89,2019.59 617.27,2096.46 603.08,2108.94 522.3,2122.08" fill="none" stroke="#0d4488" stroke-width="3.2" stroke-linejoin="round" stroke-linecap="butt" clip-path="url(#cp6)"/>
<polyline points="627.52,-374.52 626.8,939.48 624.29,1813.29 619.27,2002.51 626.73,2108.94 608.17,2122.08" fill="none" stroke="#9b8fc6" stroke-width="3.2" stroke-linejoin="round" stroke-linecap="butt" clip-path="url(#cp6)"/>
<polyline points="628.52,-374.52 628.23,939.48 624.65,1813.29 619.99,2002.51 628.38,2108.94 614.9,2122.08" fill="none" stroke="#ca9484" stroke-width="3.2" stroke-linejoin="round" stroke-linecap="butt" clip-path="url(#cp6)"/>
<line x1="84.2" y1="2020.1" x2="960.4" y2="2020.1" stroke="#ee7f22" stroke-width="4" stroke-dasharray="22.2 20.73"/>
<line x1="779.7" y1="2195.3" x2="887.1" y2="2195.3" stroke="#000" stroke-width="2.9" stroke-dasharray="14.7 14" stroke-dashoffset="5.5"/>
<line x1="780.5" y1="2195.3" x2="780.5" y2="2277" stroke="#000" stroke-width="2.9" stroke-dasharray="14.5 14.3" stroke-dashoffset="18.9"/>
<line x1="887.1" y1="2195.3" x2="887.1" y2="2277" stroke="#000" stroke-width="2.9" stroke-dasharray="14.5 14.3" stroke-dashoffset="26.6"/>
<line x1="779.7" y1="2276.2" x2="887.1" y2="2276.2" stroke="#000" stroke-width="2.9" stroke-dasharray="14.3 14.5" stroke-dashoffset="0"/>
<polyline points="780.5,2237.1 605.5,2237.1 605.5,2174" fill="none" stroke="#000" stroke-width="3"/>
<polygon points="605.5,2152.7 600.2,2173 610.8,2173" fill="#000"/>
</svg></body></html>
